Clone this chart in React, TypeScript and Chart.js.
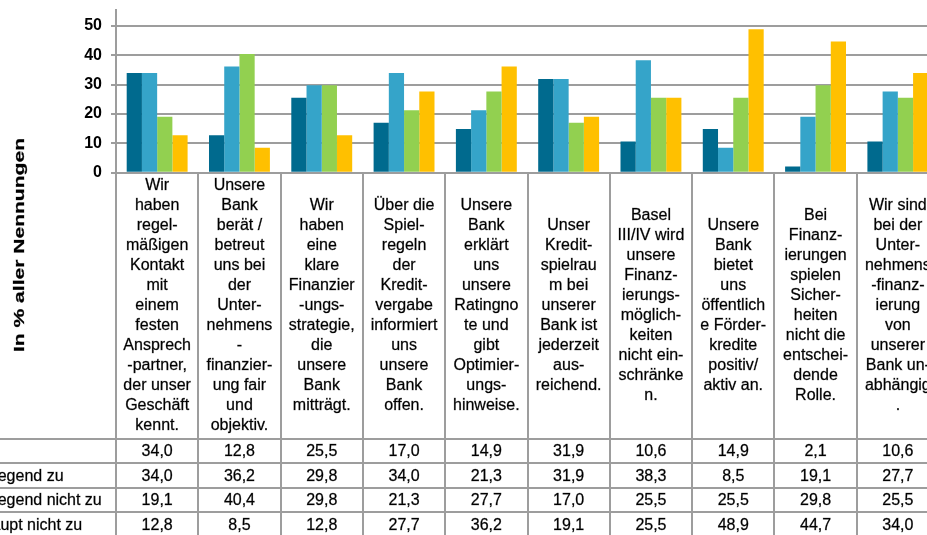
import React, { useEffect, useRef } from "react";
import { Chart, registerables } from "chart.js";

Chart.register(...registerables);

// ---------- data ----------
const categories: string[][] = [
  ["Wir", "haben", "regel-", "mäßigen", "Kontakt", "mit", "einem", "festen", "Ansprech", "-partner,", "der unser", "Geschäft", "kennt."],
  ["Unsere", "Bank", "berät /", "betreut", "uns bei", "der", "Unter-", "nehmens", "-", "finanzier-", "ung fair", "und", "objektiv."],
  ["Wir", "haben", "eine", "klare", "Finanzier", "-ungs-", "strategie,", "die", "unsere", "Bank", "mitträgt."],
  ["Über die", "Spiel-", "regeln", "der", "Kredit-", "vergabe", "informiert", "uns", "unsere", "Bank", "offen."],
  ["Unsere", "Bank", "erklärt", "uns", "unsere", "Ratingno", "te und", "gibt", "Optimier-", "ungs-", "hinweise."],
  ["Unser", "Kredit-", "spielrau", "m bei", "unserer", "Bank ist", "jederzeit", "aus-", "reichend."],
  ["Basel", "III/IV wird", "unsere", "Finanz-", "ierungs-", "möglich-", "keiten", "nicht ein-", "schränke", "n."],
  ["Unsere", "Bank", "bietet", "uns", "öffentlich", "e Förder-", "kredite", "positiv/", "aktiv an."],
  ["Bei", "Finanz-", "ierungen", "spielen", "Sicher-", "heiten", "nicht die", "entschei-", "dende", "Rolle."],
  ["Wir sind", "bei der", "Unter-", "nehmens", "-finanz-", "ierung", "von", "unserer", "Bank un-", "abhängig", "."],
];

const seriesNames = [
  "Trifft zu",
  "Trifft überwiegend zu",
  "Trifft überwiegend nicht zu",
  "Trifft überhaupt nicht zu",
];

const trifftZu = [34.0, 12.8, 25.5, 17.0, 14.9, 31.9, 10.6, 14.9, 2.1, 10.6];
const ueberwiegendZu = [34.0, 36.2, 29.8, 34.0, 21.3, 31.9, 38.3, 8.5, 19.1, 27.7];
const ueberwiegendNichtZu = [19.1, 40.4, 29.8, 21.3, 27.7, 17.0, 25.5, 25.5, 29.8, 25.5];
const ueberhauptNichtZu = [12.8, 8.5, 12.8, 27.7, 36.2, 19.1, 25.5, 48.9, 44.7, 34.0];

const yTicks = [0, 10, 20, 30, 40, 50];
const yTitle = "In % aller Nennungen";

// ---------- styles ----------
const seriesColors = ["#006A8E", "#35A4C9", "#92D050", "#FFC000"];
const FONT = "'Liberation Sans', Arial, sans-serif";
const LINE = "#9d9d9d";

const allSeries = [trifftZu, ueberwiegendZu, ueberwiegendNichtZu, ueberhauptNichtZu];

const fmt = (v: number) => v.toFixed(1).replace(".", ",");

const heavyText = (ctx: CanvasRenderingContext2D, t: string, x: number, y: number) => {
  ctx.fillText(t, x, y);
  ctx.strokeText(t, x, y);
};

const tablePlugin = {
  id: "dataTable",
  afterDraw(chart: any) {
    const ctx: CanvasRenderingContext2D = chart.ctx;
    const xs = chart.scales.x;
    const area = chart.chartArea;
    const n = categories.length;
    const step = (xs.getPixelForValue(n - 1) - xs.getPixelForValue(0)) / (n - 1);
    const firstLeft = xs.getPixelForValue(0) - step / 2;
    const top = area.bottom;
    const labelH = 266;
    const labelBottom = top + labelH;
    const rowH = 24.5;
    const H = chart.height;
    const W = chart.width;

    ctx.save();
    // table lines
    ctx.strokeStyle = LINE;
    ctx.lineWidth = 2;
    ctx.beginPath();
    for (let i = 0; i <= n; i++) {
      const x = Math.round(firstLeft + i * step);
      ctx.moveTo(x, top);
      ctx.lineTo(x, H + 5);
    }
    for (let j = 0; j <= allSeries.length; j++) {
      const y = Math.round(labelBottom + j * rowH);
      ctx.moveTo(-300, y);
      ctx.lineTo(W, y);
    }
    ctx.stroke();

    // category labels
    ctx.fillStyle = "#000";
    ctx.strokeStyle = "rgba(0,0,0,0.55)";
    ctx.lineWidth = 0.45;
    ctx.font = `16px ${FONT}`;
    ctx.textAlign = "center";
    ctx.textBaseline = "middle";
    const lh = 20;
    categories.forEach((lines, i) => {
      const cx = xs.getPixelForValue(i);
      const total = lines.length * lh;
      const y0 = top + (labelH - total) / 2 + lh / 2;
      lines.forEach((ln, k) => heavyText(ctx, ln, cx, y0 + k * lh));
    });

    // values
    allSeries.forEach((vals, j) => {
      const cy = labelBottom + (j + 0.5) * rowH + 1;
      vals.forEach((v, i) => heavyText(ctx, fmt(v), xs.getPixelForValue(i), cy));
    });

    // row headers (mostly outside the visible area)
    ctx.textAlign = "left";
    const textX = area.left - 201;
    seriesNames.forEach((name, j) => {
      const cy = labelBottom + (j + 0.5) * rowH + 1;
      ctx.fillStyle = seriesColors[j];
      ctx.fillRect(textX - 16, cy - 5, 10, 10);
      ctx.fillStyle = "#000";
      heavyText(ctx, name, textX, cy);
    });

    // y-axis title (stretched)
    ctx.font = `bold 15px ${FONT}`;
    ctx.textAlign = "center";
    const w = ctx.measureText(yTitle).width;
    ctx.translate(20, 245);
    ctx.rotate(-Math.PI / 2);
    ctx.scale(214 / w, 1);
    heavyText(ctx, yTitle, 0, 0);
    ctx.restore();
  },
};

export default function App() {
  const ref = useRef<HTMLCanvasElement | null>(null);

  useEffect(() => {
    if (!ref.current) return;
    const chart = new Chart(ref.current, {
      type: "bar",
      data: {
        labels: categories.map((c) => c.join(" ")),
        datasets: allSeries.map((vals, i) => ({
          label: seriesNames[i],
          data: vals,
          backgroundColor: seriesColors[i],
          borderWidth: 0,
          categoryPercentage: 0.74,
          barPercentage: 1,
        })),
      },
      options: {
        responsive: false,
        animation: false,
        layout: { padding: { left: 0, top: 9, right: 1, bottom: 535 - 172.7 } },
        plugins: {
          legend: { display: false },
          tooltip: { enabled: false },
          title: { display: false },
        },
        scales: {
          x: { display: false },
          y: {
            min: 0,
            max: 55.5,
            afterBuildTicks: (s: any) => {
              s.ticks = yTicks.map((v) => ({ value: v }));
            },
            afterFit: (s: any) => {
              s.width = 116;
            },
            ticks: {
              color: "#000",
              padding: 9,
              font: { family: FONT, size: 16, weight: "bold", lineHeight: 0.1 },
            },
            grid: { color: LINE, lineWidth: 2, tickLength: 5 },
            border: { color: LINE, width: 2 },
          },
        },
      } as any,
      plugins: [tablePlugin],
    });
    return () => chart.destroy();
  }, []);

  return (
    <div
      style={{
        position: "fixed",
        left: 0,
        top: 0,
        width: 927,
        height: 535,
        overflow: "hidden",
        background: "#fff",
      }}
    >
      <canvas ref={ref} width={940} height={535} style={{ display: "block" }} />
    </div>
  );
}
